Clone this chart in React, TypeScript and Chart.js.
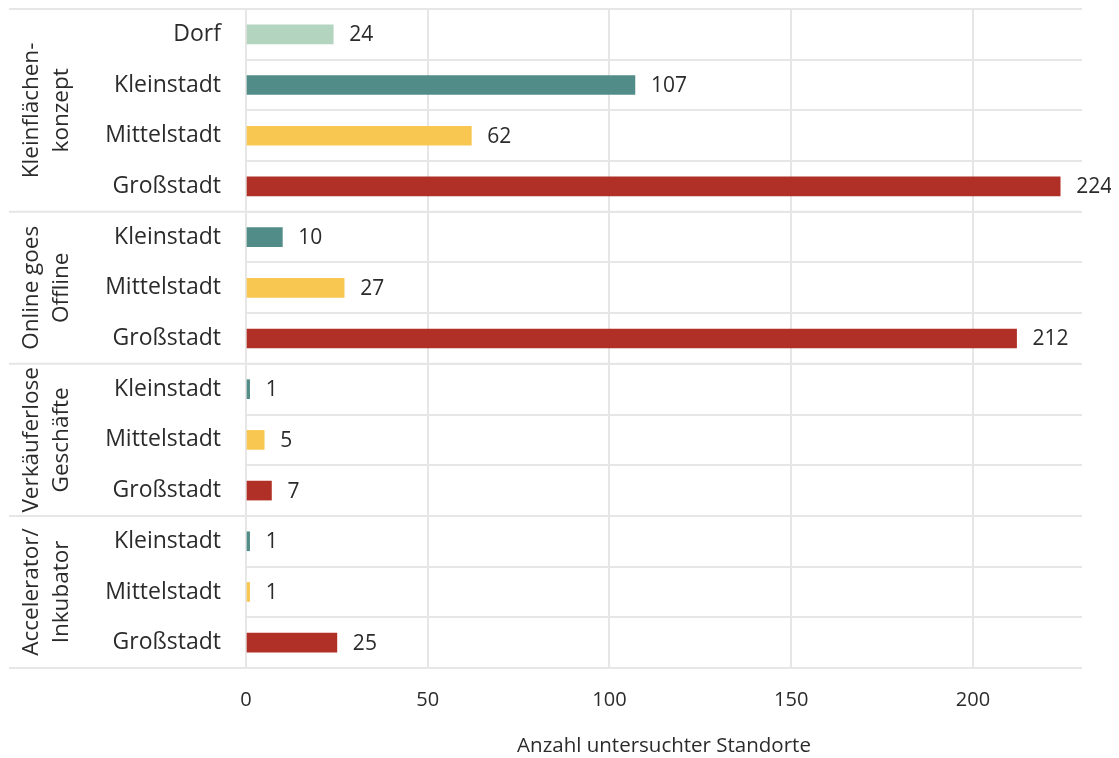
import React, { useEffect, useRef } from "react";
import { Chart, registerables } from "chart.js";

Chart.register(...registerables);

const categories = [
  "Dorf", "Kleinstadt", "Mittelstadt", "Großstadt",
  "Kleinstadt", "Mittelstadt", "Großstadt",
  "Kleinstadt", "Mittelstadt", "Großstadt",
  "Kleinstadt", "Mittelstadt", "Großstadt",
];
const values = [24, 107, 62, 224, 10, 27, 212, 1, 5, 7, 1, 1, 25];
const groupLabels = [
  ["Kleinflächen-", "konzept"],
  ["Online goes", "Offline"],
  ["Verkäuferlose", "Geschäfte"],
  ["Accelerator/", "Inkubator"],
];
const groupSizes = [4, 3, 3, 3];
const xTickValues = [0, 50, 100, 150, 200];
const axisTitle = "Anzahl untersuchter Standorte";
const colorByType: Record<string, string> = {
  Dorf: "#b3d4bf",
  Kleinstadt: "#528c88",
  Mittelstadt: "#f8c752",
  "Großstadt": "#b03027",
};

const FONT = "'Open Sans', 'Noto Sans', sans-serif";
const TEXT = "#2b2b2b";
const GRID = "#e6e6e6";

const overlayPlugin = {
  id: "overlay",
  afterDraw(chart: any) {
    const { ctx, chartArea } = chart;
    const xs = chart.scales.x;
    const ys = chart.scales.y;
    const n = categories.length;
    const rowH = (chartArea.bottom - chartArea.top) / n;
    ctx.save();
    // group separators
    ctx.strokeStyle = GRID;
    ctx.lineWidth = 2;
    let idx = 0;
    const bounds = [0];
    groupSizes.forEach((s) => {
      idx += s;
      bounds.push(idx);
    });
    bounds.forEach((b) => {
      const y = chartArea.top + b * rowH;
      ctx.beginPath();
      ctx.moveTo(1, y);
      ctx.lineTo(chartArea.right, y);
      ctx.stroke();
    });
    // value labels
    ctx.fillStyle = TEXT;
    ctx.font = `400 21px ${FONT}`;
    ctx.textAlign = "left";
    ctx.textBaseline = "middle";
    values.forEach((v, i) => {
      const x = xs.getPixelForValue(v);
      const y = ys.getPixelForValue(i);
      ctx.fillText(String(v), x + 16, y + 1);
    });
    // group labels
    ctx.font = `400 22.5px ${FONT}`;
    ctx.textAlign = "center";
    let start = 0;
    groupLabels.forEach((lines, g) => {
      const cy = chartArea.top + (start + groupSizes[g] / 2) * rowH;
      start += groupSizes[g];
      ctx.save();
      ctx.translate(0, cy);
      ctx.rotate(-Math.PI / 2);
      ctx.fillText(lines[0], 0, 24);
      ctx.fillText(lines[1], 0, 54);
      ctx.restore();
    });
    ctx.restore();
  },
};

export default function App() {
  const ref = useRef<HTMLCanvasElement | null>(null);
  useEffect(() => {
    if (!ref.current) return;
    const chart = new Chart(ref.current, {
      type: "bar",
      data: {
        labels: categories,
        datasets: [
          {
            data: values,
            backgroundColor: categories.map((c) => colorByType[c]),
            barThickness: 19,
          },
        ],
      },
      options: {
        indexAxis: "y",
        animation: false,
        responsive: true,
        maintainAspectRatio: false,
        layout: { padding: { top: 1, right: 37, left: 0, bottom: 0 } },
        plugins: { legend: { display: false }, tooltip: { enabled: false } },
        scales: {
          x: {
            min: 0,
            max: 230,
            afterBuildTicks: (scale: any) => {
              scale.ticks = xTickValues.map((v) => ({ value: v }));
            },
            afterFit: (scale: any) => {
              scale.height = 90;
              scale.paddingLeft = 0;
              scale.paddingRight = 0;
            },
            grid: { color: GRID, lineWidth: 2, drawTicks: false },
            border: { display: false },
            ticks: {
              color: TEXT,
              padding: 20,
              font: { family: FONT, size: 20, weight: 400 },
            },
            title: {
              display: true,
              text: axisTitle,
              color: TEXT,
              font: { family: FONT, size: 20.5, weight: 400 },
              padding: { top: 0, bottom: 0 },
            },
          },
          y: {
            afterFit: (scale: any) => {
              scale.width = 238;
              scale.paddingTop = 0;
              scale.paddingBottom = 0;
            },
            grid: { color: GRID, lineWidth: 2, offset: true, drawTicks: false },
            border: { display: false },
            ticks: {
              color: TEXT,
              padding: 25,
              font: { family: FONT, size: 23, weight: 400 },
            },
          },
        },
      },
      plugins: [overlayPlugin],
    });
    return () => chart.destroy();
  }, []);
  return (
    <div style={{ position: "relative", width: 1111, height: 750 }}>
      <canvas ref={ref} />
    </div>
  );
}
